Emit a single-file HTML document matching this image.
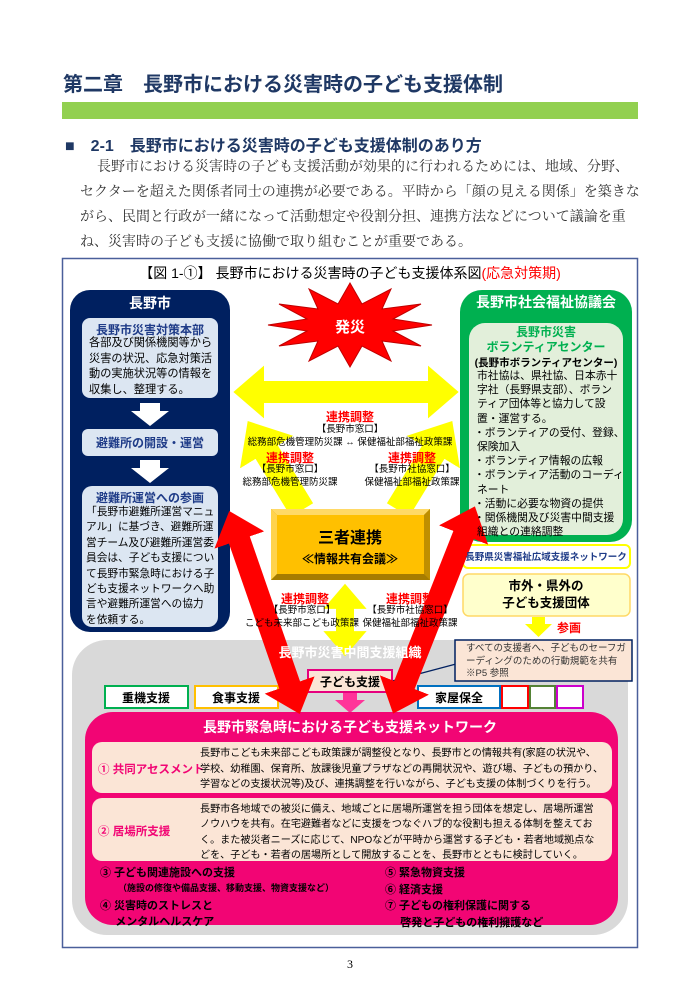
<!DOCTYPE html>
<html><head><meta charset="utf-8"><style>
body{margin:0;background:#fff;}
#p{position:relative;width:700px;height:990px;overflow:hidden;font-family:"Liberation Sans","Noto Sans CJK JP",sans-serif;color:#000;}
.t{position:absolute;white-space:nowrap;}
.c{transform:translateX(-50%);text-align:center;}
.serif{font-family:"Liberation Serif","Noto Serif CJK SC",serif;}
.r{color:#ff0000;font-weight:bold;}
</style></head><body><div id="p">
<svg width="700" height="990" style="position:absolute;left:0;top:0">
<defs>
<marker id="hy" viewBox="0 0 1.4 2.4" markerWidth="1.4" markerHeight="2.4" refX="0.05" refY="1.2" orient="auto-start-reverse" markerUnits="strokeWidth"><path d="M0,0L1.4,1.2L0,2.4z" fill="#ffff00"/></marker>
<marker id="hr" viewBox="0 0 1.4 2.4" markerWidth="1.4" markerHeight="2.4" refX="0.05" refY="1.2" orient="auto-start-reverse" markerUnits="strokeWidth"><path d="M0,0L1.4,1.2L0,2.4z" fill="#ff0000"/></marker>
</defs>
<rect x="62" y="102" width="576" height="17" fill="#92d050"/>
<rect x="62.5" y="258.5" width="575" height="689" fill="none" stroke="#4a5f9a" stroke-width="1.5"/>
<rect x="70" y="290" width="160" height="342" rx="20" fill="#002060"/>
<rect x="82" y="318" width="136" height="80" rx="8" fill="#dce6f2"/>
<path d="M140,403h20v8h9l-19,15l-19,-15h9z" fill="#fff"/>
<rect x="82" y="429" width="136" height="27" rx="6" fill="#dce6f2"/>
<path d="M140,460h20v8h9l-19,15l-19,-15h9z" fill="#fff"/>
<rect x="82" y="486" width="136" height="141" rx="10" fill="#dce6f2"/>
<rect x="460" y="290" width="172" height="252" rx="22" fill="#00b050"/>
<rect x="469" y="323" width="154" height="212" rx="16" fill="#e2efda"/>
<rect x="463" y="545" width="167" height="23" rx="5" fill="#fff" stroke="#ffff00" stroke-width="2"/>
<rect x="463" y="574" width="167" height="42" rx="6" fill="#ffffcc" stroke="#ffd966" stroke-width="1.5"/>
<line x1="263" y1="392" x2="429" y2="392" stroke="#ffff00" stroke-width="22" marker-start="url(#hy)" marker-end="url(#hy)"/>
<line x1="302" y1="510" x2="266" y2="451" stroke="#ffff00" stroke-width="26" marker-end="url(#hy)"/>
<line x1="398" y1="510" x2="434" y2="451" stroke="#ffff00" stroke-width="26" marker-end="url(#hy)"/>
<polygon points="432,325 393,331 421,346 382,341 391,361 362,346 350,367 338,346 309,361 318,341 279,346 307,331 268,325 307,319 279,304 318,309 309,289 338,304 350,283 362,304 391,289 382,309 421,304 393,319" fill="#ff0000" stroke="#c00000" stroke-width="1"/>
<rect x="72" y="640" width="556" height="295" rx="35" fill="#d9d9d9"/>
<path d="M532,617h13v7h7l-13.5,13l-13.5,-13h7z" fill="#ffff00"/>
<line x1="345" y1="608" x2="345" y2="632" stroke="#ffff00" stroke-width="18" marker-start="url(#hy)" marker-end="url(#hy)"/>
<rect x="271" y="509" width="159" height="71" fill="#c99400"/>
<polygon points="271,509 430,509 424,515 277,515" fill="#ffd966"/>
<polygon points="271,509 277,515 277,574 271,580" fill="#ffd34d"/>
<polygon points="430,509 424,515 424,574 430,580" fill="#bf8f00"/>
<polygon points="271,580 277,574 424,574 430,580" fill="#a67c00"/>
<rect x="277" y="515" width="147" height="59" fill="#ffc000"/>
<rect x="105" y="686" width="83" height="22" fill="#fff" stroke="#00b050" stroke-width="2"/>
<rect x="195" y="686" width="83" height="22" fill="#fff" stroke="#ffc000" stroke-width="2"/>
<rect x="418" y="686" width="82" height="22" fill="#fff" stroke="#0070c0" stroke-width="2"/>
<rect x="502" y="686" width="26" height="22" fill="#fff" stroke="#ff0000" stroke-width="2"/>
<rect x="530" y="686" width="25" height="22" fill="#fff" stroke="#548235" stroke-width="2"/>
<rect x="557" y="686" width="26" height="22" fill="#fff" stroke="#cc00cc" stroke-width="2"/>
<line x1="392" y1="681" x2="456" y2="664" stroke="#002060" stroke-width="1.2"/>
<rect x="455" y="640" width="177" height="41" fill="#fbe5d6" stroke="#002060" stroke-width="1.5"/>
<rect x="308" y="670" width="84" height="22" fill="#fbe5d6" stroke="#e6007e" stroke-width="2"/>
<path d="M343,693h14v7h8l-15,13l-15,-13h8z" fill="#ff3399"/>
<rect x="85" y="712" width="533" height="213" rx="28" fill="#f20574"/>
<rect x="92" y="742" width="520" height="51" rx="10" fill="#fbe5d6"/>
<rect x="92" y="798" width="520" height="63" rx="10" fill="#fbe5d6"/>
<line x1="239" y1="539" x2="290" y2="686" stroke="#ff0000" stroke-width="22" marker-start="url(#hr)" marker-end="url(#hr)"/>
<line x1="464" y1="534" x2="404" y2="686" stroke="#ff0000" stroke-width="22" marker-start="url(#hr)" marker-end="url(#hr)"/>
</svg>

<div class="t" style="left:63px;top:68px;font-size:20px;font-weight:bold;color:#1f3864;">第二章　長野市における災害時の子ども支援体制</div>
<div class="t" style="left:65px;top:132px;font-size:16px;font-weight:bold;color:#1f3864;">■　2-1　長野市における災害時の子ども支援体制のあり方</div>
<div class="t serif" style="left:97px;top:155px;font-size:14px;line-height:25px;color:#333;">長野市における災害時の子ども支援活動が効果的に行われるためには、地域、分野、</div>
<div class="t serif" style="left:80px;top:180px;font-size:14px;line-height:25px;color:#333;">セクターを超えた関係者同士の連携が必要である。平時から「顔の見える関係」を築きな<br>がら、民間と行政が一緒になって活動想定や役割分担、連携方法などについて議論を重<br>ね、災害時の子ども支援に協働で取り組むことが重要である。</div>

<div class="t c" style="left:350px;top:263px;font-size:14px;">【図 1-①】 長野市における災害時の子ども支援体系図<span style="color:#ff0000">(応急対策期)</span></div>

<div class="t c" style="left:150px;top:293px;font-size:14px;font-weight:bold;color:#fff;">長野市</div>
<div class="t c" style="left:150px;top:321px;font-size:12px;font-weight:bold;color:#1f3c88;">長野市災害対策本部</div>
<div class="t" style="left:89px;top:336px;font-size:11.2px;line-height:15.5px;">各部及び関係機関等から<br>災害の状況、応急対策活<br>動の実施状況等の情報を<br>収集し、整理する。</div>
<div class="t c" style="left:150px;top:434px;font-size:12px;font-weight:bold;color:#1f3c88;">避難所の開設・運営</div>
<div class="t c" style="left:150px;top:489px;font-size:12px;font-weight:bold;color:#1f3c88;">避難所運営への参画</div>
<div class="t" style="left:86px;top:505px;font-size:10.7px;line-height:15.4px;">「長野市避難所運営マニュ<br>アル」に基づき、避難所運<br>営チーム及び避難所運営委<br>員会は、子ども支援につい<br>て長野市緊急時における子<br>ども支援ネットワークへ助<br>言や避難所運営への協力<br>を依頼する。</div>

<div class="t c" style="left:546px;top:292px;font-size:14px;font-weight:bold;color:#fff;">長野市社会福祉協議会</div>
<div class="t c" style="left:546px;top:325px;font-size:12px;font-weight:bold;color:#00b050;line-height:15px;">長野市災害<br>ボランティアセンター</div>
<div class="t c" style="left:546px;top:355px;font-size:10.5px;font-weight:bold;">(長野市ボランティアセンター)</div>
<div class="t" style="left:474px;top:369px;font-size:10.8px;line-height:14.2px;">&nbsp;市社協は、県社協、日本赤十<br>&nbsp;字社（長野県支部）、ボラン<br>&nbsp;ティア団体等と協力して設<br>&nbsp;置・運営する。<br>・ボランティアの受付、登録、<br>&nbsp;保険加入<br>・ボランティア情報の広報<br>・ボランティア活動のコーディ<br>&nbsp;ネート<br>・活動に必要な物資の提供<br>・関係機関及び災害中間支援<br>&nbsp;組織との連絡調整</div>
<div class="t c" style="left:546px;top:549px;font-size:9.5px;font-weight:bold;color:#1f3c88;">長野県災害福祉広域支援ネットワーク</div>
<div class="t c" style="left:546px;top:578px;font-size:12.5px;font-weight:bold;line-height:17px;">市外・県外の<br>子ども支援団体</div>
<div class="t r" style="left:557px;top:619px;font-size:12px;">参画</div>

<div class="t c" style="left:350px;top:316px;font-size:15px;font-weight:bold;color:#fff;">発災</div>
<div class="t c r" style="left:350px;top:408px;font-size:12px;">連携調整</div>
<div class="t c" style="left:350px;top:423px;font-size:9.5px;line-height:13px;">【長野市窓口】<br>総務部危機管理防災課 ↔ 保健福祉部福祉政策課</div>
<div class="t c r" style="left:290px;top:449px;font-size:12px;">連携調整</div>
<div class="t c" style="left:290px;top:463px;font-size:9.5px;line-height:13px;">【長野市窓口】<br>総務部危機管理防災課</div>
<div class="t c r" style="left:412px;top:449px;font-size:12px;">連携調整</div>
<div class="t c" style="left:412px;top:463px;font-size:9.5px;line-height:13px;">【長野市社協窓口】<br>保健福祉部福祉政策課</div>
<div class="t c" style="left:350px;top:524px;font-size:16px;font-weight:bold;">三者連携</div>
<div class="t c" style="left:350px;top:550px;font-size:12px;font-weight:bold;">≪情報共有会議≫</div>
<div class="t c r" style="left:305px;top:590px;font-size:12px;">連携調整</div>
<div class="t c" style="left:302px;top:604px;font-size:9.5px;line-height:13px;">【長野市窓口】<br>こども未来部こども政策課</div>
<div class="t c r" style="left:410px;top:590px;font-size:12px;">連携調整</div>
<div class="t c" style="left:410px;top:604px;font-size:9.5px;line-height:13px;">【長野市社協窓口】<br>保健福祉部福祉政策課</div>

<div class="t c" style="left:350px;top:642px;font-size:13px;font-weight:bold;color:#fff;">長野市災害中間支援組織</div>
<div class="t" style="left:466px;top:643px;font-size:9.5px;line-height:12.5px;color:#333;">すべての支援者へ、子どものセーフガ<br>ーディングのための行動規範を共有<br>※P5 参照</div>
<div class="t c" style="left:350px;top:673px;font-size:12px;font-weight:bold;">子ども支援</div>
<div class="t c" style="left:146px;top:689px;font-size:12px;font-weight:bold;">重機支援</div>
<div class="t c" style="left:236px;top:689px;font-size:12px;font-weight:bold;">食事支援</div>
<div class="t c" style="left:459px;top:689px;font-size:12px;font-weight:bold;">家屋保全</div>

<div class="t c" style="left:350px;top:717px;font-size:14px;font-weight:bold;color:#fff;">長野市緊急時における子ども支援ネットワーク</div>
<div class="t" style="left:98px;top:761px;font-size:11.5px;font-weight:bold;color:#f20574;">① 共同アセスメント</div>
<div class="t" style="left:200px;top:746px;font-size:10.1px;line-height:15.5px;">長野市こども未来部こども政策課が調整役となり、長野市との情報共有(家庭の状況や、<br>学校、幼稚園、保育所、放課後児童プラザなどの再開状況や、遊び場、子どもの預かり、<br>学習などの支援状況等)及び、連携調整を行いながら、子ども支援の体制づくりを行う。</div>
<div class="t" style="left:98px;top:823px;font-size:11.5px;font-weight:bold;color:#f20574;">② 居場所支援</div>
<div class="t" style="left:200px;top:802px;font-size:10.1px;line-height:15.3px;">長野市各地域での被災に備え、地域ごとに居場所運営を担う団体を想定し、居場所運営<br>ノウハウを共有。在宅避難者などに支援をつなぐハブ的な役割も担える体制を整えてお<br>く。また被災者ニーズに応じて、NPOなどが平時から運営する子ども・若者地域拠点な<br>どを、子ども・若者の居場所として開放することを、長野市とともに検討していく。</div>
<div class="t" style="left:100px;top:865px;font-size:11px;font-weight:bold;line-height:16px;">③ 子ども関連施設への支援</div>
<div class="t" style="left:118px;top:881px;font-size:9px;font-weight:bold;">（施設の修復や備品支援、移動支援、物資支援など）</div>
<div class="t" style="left:100px;top:898px;font-size:11px;font-weight:bold;line-height:16px;">④ 災害時のストレスと<br>&nbsp;&nbsp;&nbsp;&nbsp;&nbsp;メンタルヘルスケア</div>
<div class="t" style="left:385px;top:865px;font-size:11px;font-weight:bold;line-height:16.5px;">⑤ 緊急物資支援<br>⑥ 経済支援<br>⑦ 子どもの権利保護に関する<br>&nbsp;&nbsp;&nbsp;&nbsp;&nbsp;啓発と子どもの権利擁護など</div>

<div class="t c serif" style="left:350px;top:957px;font-size:12px;">3</div>
</div></body></html>
